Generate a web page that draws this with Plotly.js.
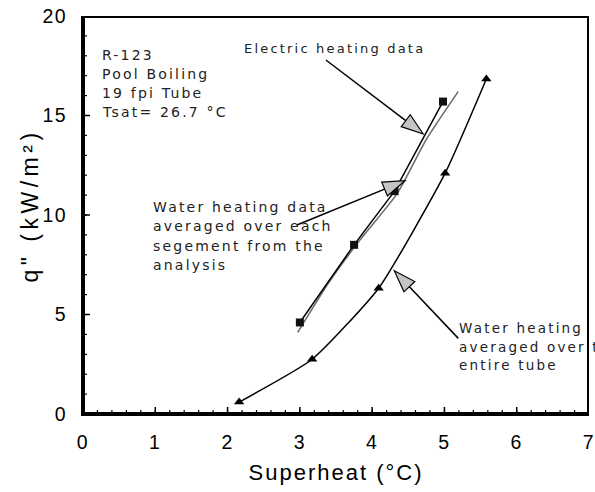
<!DOCTYPE html>
<html>
<head>
<meta charset="utf-8">
<script src="https://cdn.plot.ly/plotly-3.0.1.min.js"></script>
<style>
  body { margin: 0; padding: 0; background: #fff; }
  #chart { width: 595px; height: 492px; }
  .annotation-text { letter-spacing: 2.2px; }
  .xtick text, .ytick text { letter-spacing: 1.5px; }
  .g-xtitle text { letter-spacing: 2px; }
</style>
</head>
<body>
<div id="chart"></div>
<script>
// ---- data ----
const electricX = [3.0, 3.75, 4.31, 4.98];
const electricY = [4.6, 8.5, 11.2, 15.7];

const segmentX = [2.97, 3.4, 3.8, 4.35, 4.75, 5.19];
const segmentY = [4.1, 6.6, 8.6, 11.1, 13.8, 16.2];

const tubeX = [2.16, 3.17, 4.09, 5.01, 5.58];
const tubeY = [0.6, 2.75, 6.32, 12.1, 16.83];

const xTickVals = [0, 1, 2, 3, 4, 5, 6, 7];
const yTickVals = [0, 5, 10, 15, 20];
const xMinorStep = 0.2;
const yMinorStep = 1;

const infoLines = ["R-123", "Pool Boiling", "19 fpi Tube", "Tsat= 26.7 °C"];
const electricLabel = ["Electric heating data"];
const segmentLines = ["Water heating data", "averaged over each", "segement from the", "analysis"];
const tubeLines = ["Water heating", "averaged over the", "entire tube"];
const yTitle = 'q" (kW/m²)';
const xTitle = 'Superheat (°C)';

// ---- layout geometry ----
const W = 595, H = 492;
const M = {l: 83, r: 6, t: 16, b: 78};
const XR = [0, 7], YR = [0, 20];
const pw = W - M.l - M.r, ph = H - M.t - M.b;
const pxX = (XR[1] - XR[0]) / pw;   // data units per pixel (x)
const pxY = (YR[1] - YR[0]) / ph;   // data units per pixel (y)
const toPx = (x, y) => [M.l + (x - XR[0]) / (XR[1] - XR[0]) * pw, M.t + (YR[1] - y) / (YR[1] - YR[0]) * ph];
const toData = (px, py) => [XR[0] + (px - M.l) / pw * (XR[1] - XR[0]), YR[1] - (py - M.t) / ph * (YR[1] - YR[0])];

const shapes = [];
const seg = (x0, y0, x1, y1, w) => shapes.push({type: 'line', xref: 'x', yref: 'y', x0, y0, x1, y1,
  line: {color: '#000', width: w}, layer: 'above'});

// plot frame (drawn on the axis scales; half of each stroke is clipped at the edge)
seg(XR[0], YR[1], XR[1], YR[1], 4);
seg(XR[1], YR[0], XR[1], YR[1], 4);
seg(XR[0], YR[0], XR[1], YR[0], 4);
seg(XR[0], YR[0], XR[0], YR[1], 4);

// inside tick marks
const steps = (lo, hi, st) => { const out = []; const n = Math.round((hi - lo) / st); for (let i = 0; i <= n; i++) out.push(lo + i * st); return out; };
steps(XR[0], XR[1], xMinorStep).forEach(v => seg(v, YR[0], v, YR[0] + 4 * pxY, 1.2));
steps(YR[0], YR[1], yMinorStep).forEach(v => seg(XR[0], v, XR[0] + 4 * pxX, v, 1.2));
xTickVals.forEach(v => seg(v, YR[0], v, YR[0] + 7 * pxY, 1.5));
yTickVals.forEach(v => seg(XR[0], v, XR[0] + 7 * pxX, v, 1.5));

// arrows: tail and tip in data units
const arrows = [
  {tail: [3.36, 17.79], tip: [4.707, 14.07]},
  {tail: [2.96, 9.50], tip: [4.454, 11.72]},
  {tail: [5.192, 3.80], tip: [4.306, 7.20]}
];
arrows.forEach(a => {
  const [tx, ty] = toPx(a.tail[0], a.tail[1]);
  const [hx, hy] = toPx(a.tip[0], a.tip[1]);
  const dx = hx - tx, dy = hy - ty, L = Math.hypot(dx, dy);
  const ux = dx / L, uy = dy / L;
  const hl = 22, hw = 7.5;
  const bx = hx - ux * hl, by = hy - uy * hl;
  const c1 = toData(bx - uy * hw, by + ux * hw);
  const c2 = toData(bx + uy * hw, by - ux * hw);
  const b = toData(bx, by);
  shapes.push({type: 'line', xref: 'x', yref: 'y', x0: a.tail[0], y0: a.tail[1], x1: b[0], y1: b[1],
               line: {color: '#000', width: 1.5}});
  shapes.push({type: 'path', xref: 'x', yref: 'y',
               path: `M ${a.tip[0]} ${a.tip[1]} L ${c1[0]} ${c1[1]} L ${c2[0]} ${c2[1]} Z`,
               fillcolor: '#c4c4c4', line: {color: '#000', width: 1.2}});
});

// text annotations, one per line, positioned in pixels
const annFont = {family: 'DejaVu Sans', size: 14, color: '#222'};
const annotations = [];
function addLines(lines, leftPx, firstCenterPx, step, size) {
  lines.forEach((t, i) => {
    const [x, y] = toData(leftPx, firstCenterPx + i * step);
    annotations.push({x: x, y: y, xref: 'x', yref: 'y', text: t, showarrow: false,
      xanchor: 'left', yanchor: 'middle', borderpad: 0,
      font: Object.assign({}, annFont, {size: size})});
  });
}
addLines(infoLines, 101, 55, 19, 14);
addLines(electricLabel, 243, 48, 19, 13);
addLines(segmentLines, 152, 207, 19.3, 14);
addLines(tubeLines, 458, 328, 18.5, 13.5);

// y-axis title as rotated text
annotations.push({xref: 'paper', yref: 'paper', x: (30 - M.l) / pw, y: (H - M.b - 206) / ph,
  text: yTitle, showarrow: false, textangle: -90, xanchor: 'center', yanchor: 'middle',
  font: {family: 'Liberation Sans, Arial, sans-serif', size: 23, color: '#000'}});

const traces = [
  {x: segmentX, y: segmentY, mode: 'lines', type: 'scatter', line: {color: '#6e6e6e', width: 1.6, shape: 'spline', smoothing: 0.6},
   hoverinfo: 'skip', showlegend: false},
  {x: electricX, y: electricY, mode: 'lines+markers', type: 'scatter', line: {color: '#000', width: 1.5},
   marker: {symbol: 'square', size: 8, color: '#111'}, showlegend: false},
  {x: tubeX, y: tubeY, mode: 'lines+markers', type: 'scatter', line: {color: '#000', width: 1.5, shape: 'spline', smoothing: 0.5},
   marker: {symbol: 'triangle-up', size: 9, color: '#000'}, showlegend: false}
];

const axisFont = {family: 'Liberation Sans, Arial, sans-serif', size: 19.5, color: '#000'};
const layout = {
  width: W, height: H,
  margin: M,
  paper_bgcolor: '#fff', plot_bgcolor: '#fff',
  showlegend: false,
  xaxis: {
    range: XR, tickvals: xTickVals, ticks: '',
    showline: true, linewidth: 2, linecolor: '#000',
    showgrid: false, zeroline: false, tickfont: axisFont, ticklabelstandoff: 10, ticklabeloverflow: 'allow',
    title: {text: xTitle, font: {family: 'Liberation Sans, Arial, sans-serif', size: 22, color: '#000'}, standoff: 12}
  },
  yaxis: {
    range: YR, tickvals: yTickVals, ticks: '',
    showline: true, linewidth: 2, linecolor: '#000',
    showgrid: false, zeroline: false, tickfont: axisFont, ticklabelstandoff: 10, ticklabeloverflow: 'allow'
  },
  shapes: shapes,
  annotations: annotations
};

Plotly.newPlot('chart', traces, layout, {staticPlot: true, displayModeBar: false}).then(() => {
  document.querySelectorAll('.annotation-text').forEach(t => {
    if (t.textContent === yTitle) t.style.letterSpacing = '4.5px';
  });
});
</script>
</body>
</html>
